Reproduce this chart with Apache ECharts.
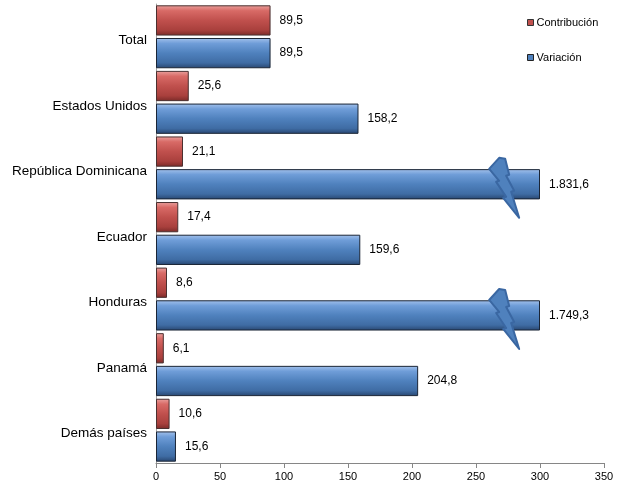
<!DOCTYPE html>
<html>
<head>
<meta charset="utf-8">
<script src="https://cdn.jsdelivr.net/npm/echarts@6/dist/echarts.min.js"></script>
<style>
html,body{margin:0;padding:0;background:#fff;}
#chart{width:617px;height:487px;}
</style>
</head>
<body>
<div id="chart"></div>
<script>
// ---- data ----
const categories = ['Total', 'Estados Unidos', 'República Dominicana', 'Ecuador', 'Honduras', 'Panamá', 'Demás países'];
const contribucion = [89.5, 25.6, 21.1, 17.4, 8.6, 6.1, 10.6];
const variacion = [89.5, 158.2, 1831.6, 159.6, 1749.3, 204.8, 15.6];
const seriesNames = ['Contribución', 'Variación'];
const xMin = 0, xMax = 350, xStep = 50;
const axisCap = 300;       // bars beyond this are truncated with a break mark
const breakAt = 272;       // where the break mark is drawn along the value axis

// ---- helpers ----
function fmtEs(v) {
  const parts = v.toFixed(1).split('.');
  const int = parts[0].replace(/\B(?=(\d{3})+(?!\d))/g, '.');
  return int + ',' + parts[1];
}
function grad(c0, c1, c2, c3, c4) {
  return new echarts.graphic.LinearGradient(0, 0, 0, 1, [
    {offset: 0, color: c0}, {offset: 0.18, color: c1}, {offset: 0.5, color: c2},
    {offset: 0.82, color: c3}, {offset: 1, color: c4}
  ]);
}
// lightning-bolt outline (local units, centre at 15,30)
const boltShape = [[10,0],[16,1],[20,17],[17,18],[25,33],[22,34],[30,60],[14,40],[17,39],[7,24],[10,23],[0,11]];

const chart = echarts.init(document.getElementById('chart'), null, {renderer: 'canvas'});
const FONT = 'Liberation Sans, Arial, sans-serif';

const variacionData = variacion.map(v => ({value: Math.min(v, axisCap), raw: v}));
const contribData = contribucion.map(v => ({value: v, raw: v}));
const breakData = variacion.map((v, i) => v > axisCap ? [breakAt, i] : null).filter(d => d);

const option = {
  animation: false,
  textStyle: {fontFamily: FONT},
  grid: {left: 156, right: 13, top: 4, bottom: 24, containLabel: false},
  legend: {
    orient: 'vertical', left: 527, top: 17, itemGap: 24, padding: 0,
    itemWidth: 6, itemHeight: 6, icon: 'rect',
    textStyle: {fontSize: 11, color: '#000', fontFamily: FONT, padding: [0, 0, 0, -2]},
    data: [
      {name: seriesNames[0], itemStyle: {color: '#c0504d', borderColor: '#333', borderWidth: 1}},
      {name: seriesNames[1], itemStyle: {color: '#4f81bd', borderColor: '#222', borderWidth: 1}}
    ]
  },
  xAxis: {
    type: 'value', min: xMin, max: xMax, interval: xStep,
    axisLine: {show: true, lineStyle: {color: '#868686', width: 1}},
    axisTick: {show: true, length: 5, lineStyle: {color: '#868686'}},
    splitLine: {show: false},
    axisLabel: {color: '#000', fontSize: 11, margin: 8, fontFamily: FONT}
  },
  yAxis: {
    type: 'category', data: categories, inverse: true,
    axisLine: {show: true, lineStyle: {color: '#a0a0a0', width: 1}},
    axisTick: {show: false},
    axisLabel: {
      color: '#000', fontSize: 13.5, margin: 9, fontFamily: FONT,
      formatter: v => '{c|' + v + '}',
      rich: {c: {fontSize: 13.5, color: '#000', fontFamily: FONT, padding: [7, 0, 0, 0]}}
    }
  },
  series: [
    {
      name: seriesNames[0], type: 'bar', data: contribData,
      barGap: '8%', barCategoryGap: '4%',
      itemStyle: {color: grad('#eaa19e', '#d86a66', '#c0504d', '#a9403d', '#7a2a28'), borderColor: '#4a3030', borderWidth: 1},
      label: {show: true, position: 'right', distance: 9, color: '#000', fontSize: 12, fontFamily: FONT,
        formatter: p => fmtEs(p.data.raw)}
    },
    {
      name: seriesNames[1], type: 'bar', data: variacionData,
      barGap: '8%', barCategoryGap: '4%',
      itemStyle: {color: grad('#a4c2ec', '#6f9dd8', '#4f81bd', '#3f6ca4', '#284670'), borderColor: '#1a2536', borderWidth: 1},
      label: {show: true, position: 'right', distance: 9, color: '#000', fontSize: 12, fontFamily: FONT,
        formatter: p => fmtEs(p.data.raw)}
    },
    {
      name: 'break', type: 'custom', data: breakData, z: 10, silent: true,
      encode: {x: 0, y: 1},
      renderItem: function (params, api) {
        const c = api.coord([api.value(0), api.value(1)]);
        const band = api.size([0, 1])[1];
        const cx = c[0], cy = c[1] + band * 0.25 + 3.5;
        return {
          type: 'polygon',
          shape: {points: boltShape.map(p => [cx + p[0] - 15, cy + p[1] - 30])},
          style: {fill: '#4f81bd', stroke: '#3a67a2', lineWidth: 2, lineJoin: 'round'}
        };
      }
    }
  ]
};
chart.setOption(option);
</script>
</body>
</html>
